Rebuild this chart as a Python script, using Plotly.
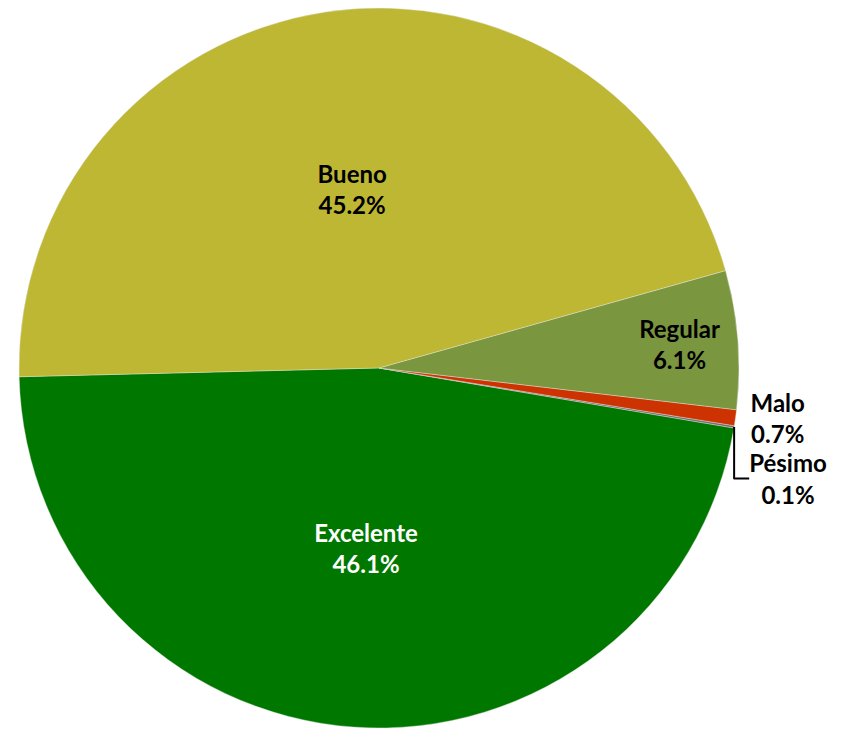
import plotly.graph_objects as go

labels = ["Excelente", "Pésimo", "Malo", "Regular", "Bueno"]
values = [46.1, 0.1, 0.7, 6.1, 45.2]
colors = ["#007800", "#6E6E6E", "#CC3300", "#7A963E", "#BDB734"]
text_colors = ["white", "black", "black", "black", "black"]
positions = ["inside", "outside", "outside", "inside", "inside"]

fig = go.Figure(go.Pie(
    labels=labels,
    values=values,
    sort=False,
    direction="counterclockwise",
    rotation=99.6,
    marker=dict(colors=colors, line=dict(color="#E8E8E8", width=0.4)),
    texttemplate="<b>%{label}</b><br><b>%{value:.1f}%</b>",
    textposition=positions,
    insidetextorientation="horizontal",
    textfont=dict(family="Lato", size=24, color=text_colors),
    outsidetextfont=dict(family="Lato", size=24, color="black"),
    domain=dict(x=[0.0128, 0.852], y=[0.0124, 1.0]),
    automargin=False,
    showlegend=False,
    hoverinfo="label+percent",
))

fig.update_layout(
    width=858, height=729,
    margin=dict(l=0, r=0, t=0, b=0),
    paper_bgcolor="white",
    plot_bgcolor="white",
    showlegend=False,
)

fig.write_html("out.html")
